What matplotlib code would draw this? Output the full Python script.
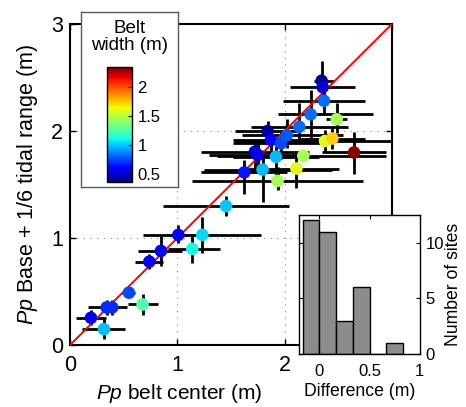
"""Pp base + 1/6 tidal range vs Pp belt center, coloured by belt width."""

import matplotlib

matplotlib.use("Agg")
import matplotlib.pyplot as plt
import numpy as np
from matplotlib.colors import Normalize
from matplotlib.cm import ScalarMappable

plt.rcParams["font.family"] = ["Liberation Sans", "DejaVu Sans"]
plt.rcParams["mathtext.fontset"] = "custom"
plt.rcParams["mathtext.it"] = "Liberation Sans:italic"
plt.rcParams["mathtext.rm"] = "Liberation Sans"

# belt center (x), base + 1/6 tidal range (y), belt width (colour)
belt_center = [0.196, 0.317, 0.342, 0.394, 0.55, 0.677, 0.74, 0.848, 1.01, 1.14,
               1.233, 1.454, 1.625, 1.795, 1.935, 2.11, 2.174, 1.724, 1.75, 1.92,
               1.842, 1.873, 1.966, 2.02, 2.137, 2.243, 2.367, 2.345, 2.355, 2.485,
               2.377, 2.445, 2.647]
base_tidal = [0.255, 0.15, 0.352, 0.352, 0.49, 0.38, 0.78, 0.88, 1.03, 0.9,
              1.03, 1.3, 1.614, 1.64, 1.535, 1.65, 1.77, 1.807, 1.776, 1.76,
              2.0, 1.916, 1.885, 1.96, 2.04, 2.156, 2.283, 2.47, 2.41, 2.11,
              1.907, 1.93, 1.80]
belt_width = [0.55, 0.98, 0.70, 0.70, 0.75, 1.25, 0.6, 0.6, 0.6, 1.1,
              1.03, 1.0, 0.65, 0.98, 1.45, 1.6, 1.45, 0.5, 0.55, 0.97,
              0.42, 0.6, 0.75, 0.78, 0.82, 0.82, 0.82, 0.42, 0.5, 1.45,
              1.6, 1.73, 2.33]
x_neg = [0.14, 0.2, 0.17, 0.05, 0.06, 0.14, 0.13, 0.21, 0.08, 0.23,
         0.55, 0.59, 0.4, 0.55, 0.8, 0.45, 0.8, 0.5, 0.45, 0.4,
         0.3, 0.35, 0.45, 0.42, 0.45, 0.3, 0.38, 0.07, 0.3, 0.1,
         0.84, 0.3, 0.3]
x_pos = [0.14, 0.2, 0.19, 0.05, 0.06, 0.14, 0.13, 0.2, 0.08, 0.26,
         0.55, 0.59, 0.4, 0.65, 0.8, 0.4, 0.77, 0.5, 0.45, 0.4,
         0.3, 0.4, 0.45, 0.52, 0.45, 0.58, 0.38, 0.12, 0.3, 0.1,
         0.62, 0.3, 0.3]
y_neg = [0.07, 0.09, 0.07, 0.07, 0.04, 0.1, 0.07, 0.14, 0.08, 0.13,
         0.17, 0.09, 0.2, 0.3, 0.09, 0.18, 0.05, 0.2, 0.1, 0.2,
         0.09, 0.12, 0.15, 0.12, 0.14, 0.23, 0.13, 0.15, 0.1, 0.13,
         0.1, 0.1, 0.2]
y_pos = [0.07, 0.09, 0.07, 0.07, 0.04, 0.1, 0.07, 0.14, 0.09, 0.14,
         0.17, 0.09, 0.12, 0.18, 0.13, 0.15, 0.05, 0.1, 0.1, 0.1,
         0.09, 0.12, 0.12, 0.15, 0.22, 0.23, 0.12, 0.18, 0.1, 0.15,
         0.1, 0.1, 0.19]

# histogram of differences
diff_edges = [-1 / 6, 0, 1 / 6, 2 / 6, 3 / 6, 4 / 6, 5 / 6]
diff_counts = [12, 11, 3, 6, 0, 1]

W_MIN, W_MAX = 0.36, 2.35
FS = 15.5

fig = plt.figure(figsize=(4.66, 4.07), dpi=100)

ax = fig.add_axes([0.150, 0.152, 0.691, 0.789])
ax.errorbar(belt_center, base_tidal,
            xerr=[x_neg, x_pos], yerr=[y_neg, y_pos],
            fmt="none", ecolor="black", elinewidth=2.0, capsize=0, zorder=2)
ax.plot([0, 3], [0, 3], color="red", lw=1.4, zorder=3)
ax.scatter(belt_center, base_tidal, c=belt_width, cmap="jet",
           vmin=W_MIN, vmax=W_MAX, s=82, edgecolors="none", zorder=4)

ax.set_xlim(0, 3)
ax.set_ylim(0, 3)
ax.set_xticks([0, 1, 2, 3])
ax.set_xticklabels(["0", "1", "2", ""])
ax.set_yticks([0, 1, 2, 3])
for v in (1, 2):
    ax.axvline(v, color="0.55", lw=0.8, ls=(0, (1, 5)), zorder=1)
    ax.axhline(v, color="0.55", lw=0.8, ls=(0, (1, 5)), zorder=1)
ax.tick_params(direction="in", length=4, width=1, labelsize=FS,
               top=True, right=True, labeltop=False, labelright=False)
ax.tick_params(axis="x", pad=7)
ax.tick_params(axis="y", pad=5)
for sp in ax.spines.values():
    sp.set_linewidth(1.5)
ax.set_xlabel(r"$\it{Pp}$ belt center (m)", fontsize=15)
ax.xaxis.set_label_coords(0.34, -0.115)
ax.set_ylabel(r"$\it{Pp}$ Base + 1/6 tidal range (m)", fontsize=FS, labelpad=8)

# colour legend box
box = fig.add_axes([0.174, 0.541, 0.208, 0.430])
box.set_xticks([])
box.set_yticks([])
for sp in box.spines.values():
    sp.set_color("0.35")
    sp.set_linewidth(1.0)
box.text(0.5, 0.955, "Belt\nwidth (m)", transform=box.transAxes,
         ha="center", va="top", fontsize=13.5, linespacing=1.05)

cax = fig.add_axes([0.2296, 0.553, 0.0536, 0.2826])
sm = ScalarMappable(norm=Normalize(W_MIN, W_MAX), cmap="jet")
cb = fig.colorbar(sm, cax=cax, ticks=[0.5, 1, 1.5, 2])
cb.ax.set_yticklabels(["0.5", "1", "1.5", "2"])
cb.ax.tick_params(direction="in", length=3, width=0.8, labelsize=12, pad=4)
cb.outline.set_linewidth(1.0)

# inset histogram
hax = fig.add_axes([0.642, 0.130, 0.259, 0.342])
hax.bar(diff_edges[:-1], diff_counts, width=np.diff(diff_edges), align="edge",
        color="#8c8c8c", edgecolor="black", linewidth=1.0)
hax.set_xlim(-0.2, 1.0)
hax.set_ylim(0, 12.5)
hax.set_xticks([0, 0.5, 1])
hax.set_xticklabels(["0", "0.5", "1"])
hax.set_yticks([0, 5, 10])
hax.yaxis.tick_right()
hax.yaxis.set_label_position("right")
hax.tick_params(direction="in", length=3, width=0.8, labelsize=12,
                left=True, top=True)
hax.tick_params(axis="x", pad=7)
hax.tick_params(axis="y", pad=4)
for sp in hax.spines.values():
    sp.set_linewidth(1.0)
hax.set_xlabel("Difference (m)", fontsize=12.7, labelpad=3)
hax.set_ylabel("Number of sites", fontsize=12.7, labelpad=1)

fig.savefig("out.png", dpi=100)
plt.close(fig)
